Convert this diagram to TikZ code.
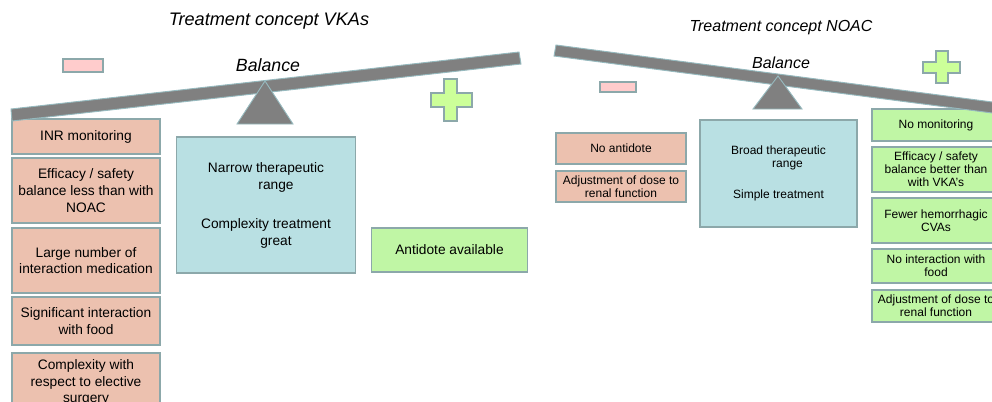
\documentclass[tikz,border=0pt]{standalone}
\usepackage{fontspec}
\setmainfont{Liberation Sans}
\definecolor{edgecol}{RGB}{140,168,170}
\definecolor{beamedge}{RGB}{150,185,190}
\definecolor{beamcol}{RGB}{128,128,128}
\definecolor{pinkcol}{RGB}{236,193,175}
\definecolor{bluecol}{RGB}{185,224,227}
\definecolor{greencol}{RGB}{192,246,165}
\definecolor{pluscol}{RGB}{204,255,153}
\definecolor{minuscol}{RGB}{255,204,204}
\tikzset{
  edged/.style={draw=edgecol, line width=1.1pt},
  bx/.style={edged, align=center, inner sep=0pt},
  lfont/.style={font=\fontsize{10.3}{12.6}\selectfont},
  rfont/.style={font=\fontsize{9}{9.9}\selectfont},
  lbox/.style={bx, lfont, fill=pinkcol, minimum width=111pt},
  rpbox/.style={bx, rfont, fill=pinkcol, minimum width=97.5pt, minimum height=23.25pt},
  rgbox/.style={bx, rfont, fill=greencol, minimum width=96pt},
  beam/.style={fill=beamcol, draw=beamedge, line width=0.7pt},
  fulcrum/.style={fill=beamcol, draw=beamedge, line width=0.7pt},
  plussign/.style={fill=pluscol, draw=edgecol, line width=1pt},
  minussign/.style={fill=minuscol, draw=edgecol, line width=1pt},
}
\begin{document}
\begin{tikzpicture}[x=0.75pt,y=-0.75pt]
\useasboundingbox (0,0) rectangle (992,401);
\clip (0,0) rectangle (992,401);

% ---------- left: VKAs ----------
\node[font=\itshape\fontsize{13.6}{16}\selectfont] (t1) at (269,21) {Treatment concept VKAs};
\node[font=\itshape\fontsize{13.3}{16}\selectfont] (b1) at (268,65) {Balance};

\node[lbox, minimum height=26.25pt] (l1) at (86,136.5) {INR monitoring};
\node[lbox, minimum height=48.75pt] (l2) at (86,190.5) {Efficacy / safety\\balance less than with\\NOAC};
\node[lbox, minimum height=48.75pt] (l3) at (86,260.5) {Large number of\\interaction medication};
\node[lbox, minimum height=36pt] (l4) at (86,321) {Significant interaction\\with food};
\node[lbox, minimum height=44pt] (l5) at (86,382.5) {Complexity with\\respect to elective\\surgery};

\node[bx, fill=bluecol, minimum width=134.25pt, minimum height=102pt, font=\fontsize{10.3}{12.75}\selectfont] (c1) at (266,205)
  {Narrow therapeutic\\\hspace*{15pt}range\\[16.5pt]Complexity treatment\\\hspace*{15pt}great};

\node[bx, lfont, fill=greencol, minimum width=117pt, minimum height=33pt] (a1) at (449.5,250) {Antidote available};

\draw[beam] (11,109) -- (12,121) -- (521,64) -- (519,52) -- cycle;
\draw[fulcrum] (265,81) -- (293,124) -- (237,124) -- cycle;

\draw[minussign] (63,59) rectangle (103,72);
\draw[plussign] (444,79) -- (457,79) -- (457,93) -- (472,93) -- (472,107) -- (457,107)
  -- (457,121) -- (444,121) -- (444,107) -- (431,107) -- (431,93) -- (444,93) -- cycle;

% ---------- right: NOAC ----------
\node[font=\itshape\fontsize{12}{14}\selectfont] (t2) at (781,28) {Treatment concept NOAC};
\node[font=\itshape\fontsize{12}{14}\selectfont] (b2) at (781,63) {Balance};

\node[rpbox] (r1) at (621,148.5) {No antidote};
\node[rpbox] (r2) at (621,186.5) {Adjustment of dose to\\renal function};

\node[bx, rfont, fill=bluecol, minimum width=117.75pt, minimum height=80.25pt] (c2) at (778.5,173.5)
  {Broad therapeutic\\\hspace*{13.5pt}range\\[13.5pt]Simple treatment};

\node[rgbox, minimum height=24pt] (g1) at (936,125) {No monitoring};
\node[rgbox, minimum height=33.75pt] (g2) at (936,169.5) {Efficacy / safety\\balance better than\\with VKA's};
\node[rgbox, minimum height=33.75pt] (g3) at (936,220.5) {Fewer hemorrhagic\\CVAs};
\node[rgbox, minimum height=25.5pt] (g4) at (936,266) {No interaction with\\food};
\node[rgbox, minimum height=24pt] (g5) at (936,306) {Adjustment of dose to\\renal function};

\draw[beam] (556,45) -- (554,56) -- (1000,114) -- (1000,103) -- cycle;
\draw[fulcrum] (778,76) -- (802,109) -- (753,109) -- cycle;

\draw[minussign] (600,82) rectangle (636,92);
\draw[plussign] (936,51) -- (948,51) -- (948,62) -- (960,62) -- (960,73) -- (948,73)
  -- (948,83) -- (936,83) -- (936,73) -- (923,73) -- (923,62) -- (936,62) -- cycle;
\end{tikzpicture}
\end{document}
